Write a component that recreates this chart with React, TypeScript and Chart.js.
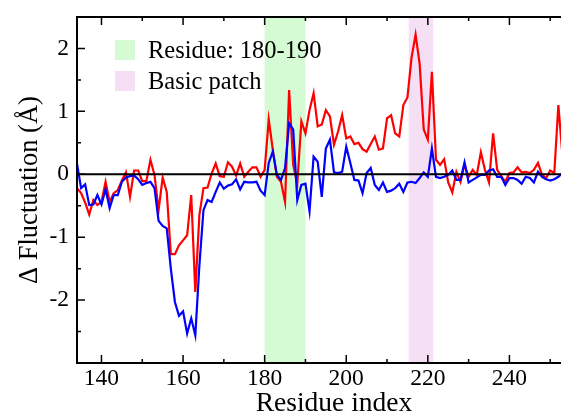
import React, { useEffect, useRef } from "react";
import { Chart, registerables } from "chart.js";

Chart.register(...registerables);

const residues = [
  134, 135, 136, 137, 138, 139, 140, 141, 142, 143, 144, 145, 146, 147, 148, 149,
  150, 151, 152, 153, 154, 155, 156, 157, 158, 159, 160, 161, 162, 163, 164, 165,
  166, 167, 168, 169, 170, 171, 172, 173, 174, 175, 176, 177, 178, 179, 180, 181,
  182, 183, 184, 185, 186, 187, 188, 189, 190, 191, 192, 193, 194, 195, 196, 197,
  198, 199, 200, 201, 202, 203, 204, 205, 206, 207, 208, 209, 210, 211, 212, 213,
  214, 215, 216, 217, 218, 219, 220, 221, 222, 223, 224, 225, 226, 227, 228, 229,
  230, 231, 232, 233, 234, 235, 236, 237, 238, 239, 240, 241, 242, 243, 244, 245,
  246, 247, 248, 249, 250, 251, 252, 253,
];

const seriesRed = [
  -0.22, -0.30, -0.45, -0.64, -0.41, -0.49, -0.44, -0.12, -0.44, -0.30, -0.25, -0.10, 0.03, -0.36, 0.06, 0.06,
  -0.11, -0.11, 0.23, -0.01, -0.57, -0.05, -0.28, -1.27, -1.27, -1.13, -1.05, -0.97, -0.33, -1.87, -0.65, -0.22,
  -0.21, 0.01, 0.17, -0.03, -0.04, 0.19, 0.12, -0.02, 0.17, -0.04, 0.04, 0.11, 0.11, -0.04, 0.07, 0.87,
  0.39, -0.04, -0.12, -0.44, 1.34, 0.15, -0.15, 0.84, 0.65, 1.02, 1.29, 0.76, 0.79, 1.02, 0.92, 0.47,
  0.68, 0.94, 0.57, 0.60, 0.48, 0.50, 0.40, 0.36, 0.48, 0.60, 0.39, 0.41, 0.89, 0.94, 0.65, 0.60,
  1.10, 1.22, 1.85, 2.22, 1.75, 0.71, 0.55, 1.63, 0.23, 0.15, 0.24, -0.13, -0.29, 0.04, -0.12, 0.15,
  -0.04, 0.07, -0.01, 0.35, 0.07, -0.13, 0.65, 0.07, -0.03, -0.12, 0.02, 0.03, 0.11, 0.03, 0.04, 0.02,
  0.07, 0.18, -0.01, -0.06, 0.06, 0.02, 1.10, 0.30,
];

const seriesBlue = [
  0.17, -0.22, -0.16, -0.49, -0.48, -0.33, -0.48, -0.24, -0.54, -0.33, -0.33, -0.12, -0.05, -0.03, -0.02, -0.08,
  -0.17, -0.14, -0.12, -0.22, -0.74, -0.82, -0.86, -1.50, -2.03, -2.25, -2.18, -2.53, -2.29, -2.56, -1.45, -0.57,
  -0.41, -0.44, -0.28, -0.13, -0.23, -0.18, -0.16, -0.08, -0.24, -0.12, -0.13, -0.13, -0.12, -0.26, -0.33, 0.18,
  0.36, -0.01, -0.09, 0.10, 0.81, 0.71, -0.41, -0.17, -0.15, -0.59, 0.28, 0.20, -0.36, 0.41, 0.55, 0.03,
  0.02, 0.04, 0.44, 0.18, -0.09, -0.10, -0.30, 0.02, 0.10, -0.17, -0.25, -0.13, -0.28, -0.26, -0.22, -0.15,
  -0.28, -0.13, -0.12, -0.14, -0.06, 0.03, -0.04, 0.41, -0.04, -0.06, -0.04, -0.01, 0.06, -0.09, -0.09, 0.19,
  -0.13, -0.09, -0.05, -0.01, -0.01, 0.06, 0.08, -0.04, -0.04, -0.17, -0.06, -0.06, -0.09, -0.15, -0.04, -0.06,
  -0.13, 0.04, -0.04, -0.08, -0.10, -0.08, -0.04, 0.02,
];

const xTickLabels = [140, 160, 180, 200, 220, 240, 260];
const yTickLabels = [-2, -1, 0, 1, 2];

const bandLabels = ["Residue: 180-190", "Basic patch"];
const bandStarts = [180, 215.3];
const bandEnds = [190, 221.3];
const bandColors = ["#d5fbd5", "#f5dff5"];

const SERIF = '"Liberation Serif", "Times New Roman", serif';

const decorPlugin = {
  id: "decor",
  beforeDatasetsDraw(chart: any) {
    const { ctx, chartArea, scales } = chart;
    const x = scales.x;
    ctx.save();
    for (let i = 0; i < bandStarts.length; i++) {
      const x0 = x.getPixelForValue(bandStarts[i]);
      const x1 = x.getPixelForValue(bandEnds[i]);
      ctx.fillStyle = bandColors[i];
      ctx.fillRect(x0, chartArea.top, x1 - x0, chartArea.bottom - chartArea.top);
    }
    ctx.restore();
  },
  afterDatasetsDraw(chart: any) {
    const { ctx, chartArea, scales } = chart;
    const x = scales.x;
    const y = scales.y;
    const { left, right, top, bottom } = chartArea;
    ctx.save();
    ctx.strokeStyle = "#000";
    ctx.lineWidth = 2;
    const y0 = y.getPixelForValue(0);
    ctx.beginPath();
    ctx.moveTo(left, y0);
    ctx.lineTo(right, y0);
    ctx.stroke();
    ctx.beginPath();
    ctx.moveTo(right, top);
    ctx.lineTo(left, top);
    ctx.lineTo(left, bottom);
    ctx.lineTo(right, bottom);
    ctx.lineTo(right, top);
    ctx.stroke();
    ctx.lineWidth = 1.5;
    x.ticks.forEach((t: any) => {
      const major = xTickLabels.includes(t.value);
      const len = major ? 8 : 4;
      const px = x.getPixelForValue(t.value);
      ctx.beginPath();
      ctx.moveTo(px, bottom);
      ctx.lineTo(px, bottom - len);
      ctx.moveTo(px, top);
      ctx.lineTo(px, top + len);
      ctx.stroke();
    });
    y.ticks.forEach((t: any) => {
      const major = yTickLabels.includes(t.value);
      const len = major ? 8 : 4;
      const py = y.getPixelForValue(t.value);
      ctx.beginPath();
      ctx.moveTo(left, py);
      ctx.lineTo(left + len, py);
      ctx.moveTo(right, py);
      ctx.lineTo(right - len, py);
      ctx.stroke();
    });
    ctx.font = `24.5px ${SERIF}`;
    ctx.textBaseline = "alphabetic";
    ctx.textAlign = "left";
    for (let i = 0; i < bandLabels.length; i++) {
      const by = top + 23 + i * 31;
      ctx.fillStyle = bandColors[i];
      ctx.fillRect(left + 38, by, 20, 20);
      ctx.fillStyle = "#000";
      ctx.fillText(bandLabels[i], left + 71, by + 18);
    }
    ctx.restore();
  },
};

export default function App() {
  const canvasRef = useRef<HTMLCanvasElement | null>(null);

  useEffect(() => {
    if (!canvasRef.current) return;
    const chart = new Chart(canvasRef.current, {
      type: "line",
      data: {
        datasets: [
          {
            label: "blue",
            data: residues.map((r, i) => ({ x: r, y: seriesBlue[i] })),
            borderColor: "#0000ff",
            borderWidth: 2.2,
            pointRadius: 0,
            tension: 0,
            fill: false,
          },
          {
            label: "red",
            data: residues.map((r, i) => ({ x: r, y: seriesRed[i] })),
            borderColor: "#ff0000",
            borderWidth: 2.2,
            pointRadius: 0,
            tension: 0,
            fill: false,
          },
        ],
      },
      options: {
        animation: false,
        responsive: false,
        devicePixelRatio: 1,
        layout: { padding: { top: 17, right: 1, left: 0, bottom: 0 } },
        plugins: {
          legend: { display: false },
          tooltip: { enabled: false },
        },
        scales: {
          x: {
            type: "linear",
            min: 134,
            max: 260,
            grid: { display: false, drawTicks: false },
            border: { display: false },
            ticks: {
              stepSize: 10,
              includeBounds: false,
              autoSkip: false,
              maxRotation: 0,
              padding: 2,
              color: "#000",
              font: { family: SERIF, size: 23.5 },
              callback: (v: any) => (xTickLabels.includes(Number(v)) ? String(v) : ""),
            },
            title: {
              display: true,
              text: "Residue index",
              color: "#000",
              font: { family: SERIF, size: 27.5, lineHeight: 1 },
              padding: { top: 0, bottom: 0 },
            },
            afterFit: (s: any) => {
              s.height = 55;
              s.paddingLeft = 0;
              s.paddingRight = 0;
            },
          },
          y: {
            type: "linear",
            min: -3,
            max: 2.5,
            grid: { display: false, drawTicks: false },
            border: { display: false },
            ticks: {
              stepSize: 0.5,
              autoSkip: false,
              padding: 8,
              color: "#000",
              font: { family: SERIF, size: 23.5 },
              callback: (v: any) => (yTickLabels.includes(Number(v)) ? String(v) : ""),
            },
            title: {
              display: true,
              text: "Δ Fluctuation (Å)",
              color: "#000",
              font: { family: SERIF, size: 26.5, lineHeight: 1 },
              padding: { top: 17, bottom: 0 },
            },
            afterFit: (s: any) => {
              s.width = 77;
              s.paddingTop = 0;
              s.paddingBottom = 0;
            },
          },
        },
      },
      plugins: [decorPlugin],
    });
    return () => chart.destroy();
  }, []);

  return (
    <div style={{ position: "absolute", left: 0, top: 0, width: 561, height: 418, overflow: "hidden", background: "#fff" }}>
      <canvas ref={canvasRef} width={592} height={418} style={{ width: 592, height: 418, display: "block" }} />
    </div>
  );
}
